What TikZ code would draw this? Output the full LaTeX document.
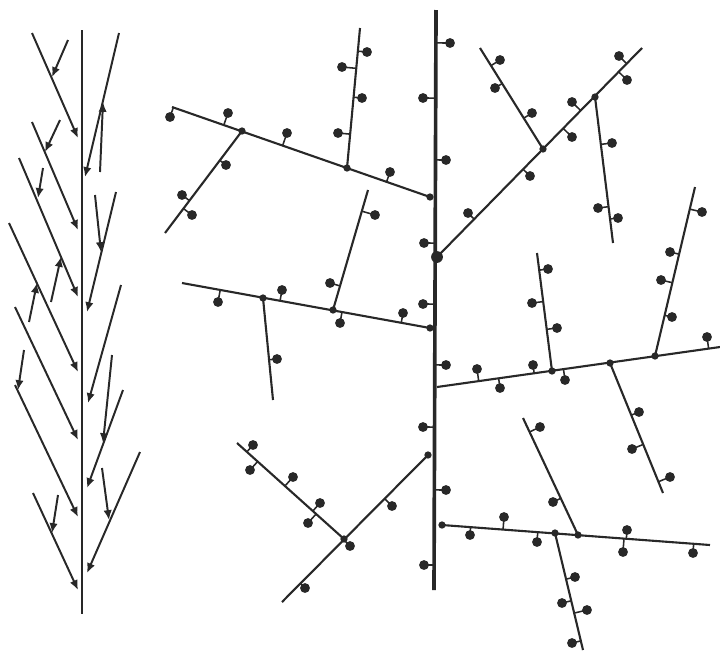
\documentclass[tikz,border=0pt]{standalone}
\usepackage{tikz}
\usetikzlibrary{arrows.meta, calc}

\definecolor{ink}{HTML}{282828}

% a bud on a short stalk, stalk foot projected onto the shoot
\newcommand{\budat}[3]{%
  \draw[stalk] ($(#1)!(#2)!(#3)$) -- (#2);
  \fill[ink] (#2) circle[radius=3.5pt];}

\begin{document}
\begin{tikzpicture}[
    x=0.025cm, y=-0.025cm,
    stem/.style={draw=ink, line width=2.6pt},
    shoot/.style={draw=ink, line width=1.5pt},
    twig/.style={draw=ink, line width=1.4pt, -{Latex[length=7pt, width=6pt]}},
    stalk/.style={draw=ink, line width=1.1pt},
    knot/.style={fill=ink}
]
\useasboundingbox (0,0) rectangle (720,652);

% SPIKE (left)
\coordinate (ltop) at (82,30);
\coordinate (lbase) at (82,614);
\draw[stem, line width=2.1pt] (ltop) -- (lbase);

% side shoots to the axis, short shoots to the side shoots
\foreach \xa/\ya/\xb/\yb in {32/33/78/138, 32/122/78/230, 19/158/78/297,
    9/223/78/372, 15/307/78/440, 15/385/78/517, 33/493/78/590,
    119/33/85/177, 116/192/87/312, 121/285/88/403, 123/390/87/488, 140/452/87/573,
    68/40/52/77, 60/120/45/152, 43/168/38/198, 95/195/101/252, 112/355/103/443,
    102/468/109/520, 24/350/18/390, 58/495/52/533,
    100/172/103/102, 51/302/61/257, 29/322/37/283}
  \draw[twig] (\xa,\ya) -- (\xb,\yb);

% BRANCHED PLANT (right)
% main axis
\coordinate (S0) at (436,10);
\coordinate (S1) at (434,590);
\draw[stem] (S0) -- (S1);

% shoots: start and end points
\coordinate (B1s) at (430,197);  \coordinate (B1e) at (172,107);
\coordinate (B1as) at (242,131); \coordinate (B1ae) at (165,233);
\coordinate (B1bs) at (347,168); \coordinate (B1be) at (360,28);
\coordinate (B2s) at (430,328);  \coordinate (B2e) at (182,283);
\coordinate (B2as) at (263,298); \coordinate (B2ae) at (273,400);
\coordinate (B2bs) at (333,310); \coordinate (B2be) at (368,190);
\coordinate (B3s) at (428,455);  \coordinate (B3e) at (282,602);
\coordinate (B3as) at (344,539); \coordinate (B3ae) at (237,443);
\coordinate (B4s) at (437,257);  \coordinate (B4e) at (642,48);
\coordinate (B4as) at (543,149); \coordinate (B4ae) at (480,48);
\coordinate (B4bs) at (595,97);  \coordinate (B4be) at (613,243);
\coordinate (B5s) at (442,525);  \coordinate (B5e) at (710,545);
\coordinate (B5as) at (555,533); \coordinate (B5ae) at (583,650);
\coordinate (B6s) at (437,387);  \coordinate (B6e) at (720,347);
\coordinate (B6as) at (655,356); \coordinate (B6ae) at (695,187);
\coordinate (B6bs) at (552,371); \coordinate (B6be) at (537,253);
\coordinate (B6cs) at (610,363); \coordinate (B6ce) at (663,493);
\coordinate (B6ds) at (578,535); \coordinate (B6de) at (523,418);

% shoots with their buds
\foreach \a/\b/\buds in {
    B1/B1e/{{170,117},{228,113},{287,133},{390,172}},
    B1a/B1ae/{{226,165},{182,195},{192,215}},
    B1b/B1be/{{367,52},{342,67},{362,98},{338,133}},
    B2/B2e/{{218,302},{282,290},{340,323},{403,313}},
    B2a/B2ae/{{277,359}},
    B2b/B2be/{{375,215},{330,283}},
    B3/B3e/{{392,506},{350,546},{305,588}},
    B3a/B3ae/{{253,445},{250,470},{293,477},{320,503},{308,523}},
    B4/B4e/{{468,213},{530,176},{572,137},{572,102},{627,80},{619,56}},
    B4a/B4ae/{{500,60},{495,88},{532,113}},
    B4b/B4be/{{612,143},{598,208},{618,218}},
    B5/B5e/{{470,535},{504,517},{537,542},{627,530},{623,552},{693,553}},
    B5a/B5ae/{{575,577},{562,603},{587,610},{572,643}},
    B6/B6e/{{477,369},{500,388},{533,365},{565,380},{707,337}},
    B6a/B6ae/{{702,212},{670,252},{661,280},{672,317}},
    B6b/B6be/{{548,269},{532,303},{557,328}},
    B6c/B6ce/{{639,412},{632,449},{670,477}},
    B6d/B6de/{{540,427},{553,502}}} {
  \draw[shoot] (\a s) -- (\b);
  \foreach \p in \buds
    \budat{\a s}{\p}{\b};
}

% buds on the main axis
\foreach \p in {{450,43},{423,98},{446,160},{424,243},{423,304},
    {446,365},{423,427},{446,490},{424,565}}
  \budat{S0}{\p}{S1};

% knots where shoots meet
\foreach \j in {B1s,B2s,B3s,B5s,B1as,B1bs,B2as,B2bs,B3as,
    B4as,B4bs,B5as,B6as,B6bs,B6cs,B6ds}
  \fill[knot] (\j) circle[radius=2.6pt];
\fill[knot] (B4s) circle[radius=4.2pt];

\end{tikzpicture}
\end{document}
